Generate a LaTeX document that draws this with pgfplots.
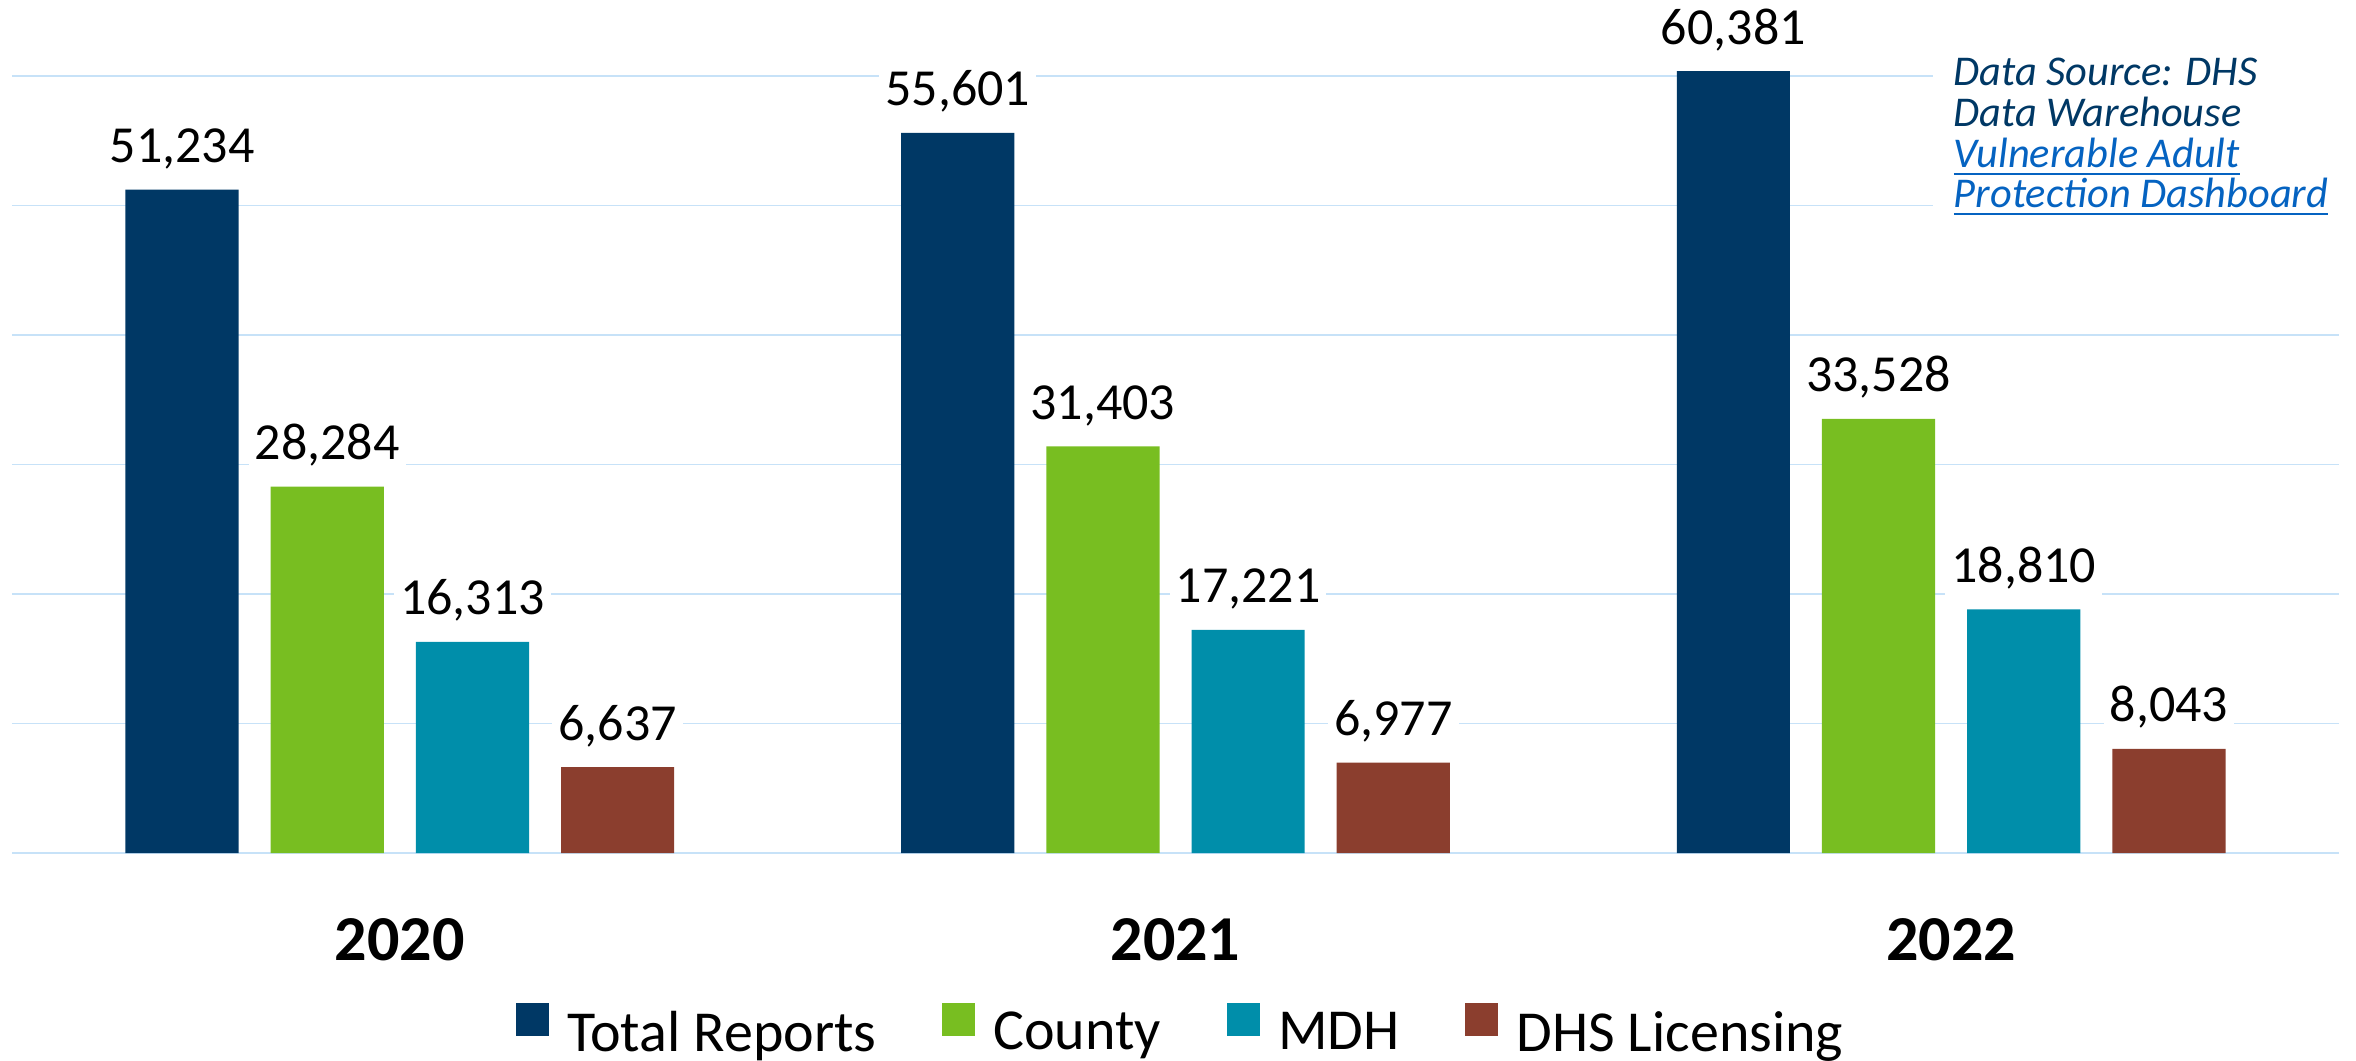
\documentclass[border=0pt]{standalone}
\usepackage{pgfplots}
\pgfplotsset{compat=1.18}
\usepackage{fontspec}
\setmainfont{Carlito}
\definecolor{cnavy}{HTML}{003865}
\definecolor{cgreen}{HTML}{78BE21}
\definecolor{cteal}{HTML}{008EAA}
\definecolor{crust}{HTML}{8B3E2E}
\definecolor{cgrid}{HTML}{C7E2F8}
\definecolor{clink}{HTML}{0563C1}
\begin{document}
\begin{tikzpicture}
\path[use as bounding box] (-3bp,-52bp) rectangle (586bp,213.25bp);
\begin{axis}[
  at={(0,0)}, anchor=south west,
  scale only axis, width=581.75bp, height=194.25bp,
  xmin=-0.5, xmax=2.5, ymin=0, ymax=60000,
  axis line style={draw=none},
  tick style={draw=none},
  major tick length=0pt,
  scaled y ticks=false,
  xtick={0,1,2}, xticklabels={2020,2021,2022},
  xticklabel style={font=\fontsize{16bp}{16bp}\selectfont\bfseries, anchor=base, yshift=-26.75bp},
  ytick={0,10000,...,60000}, yticklabels={},
  ymajorgrids, major grid style={draw=cgrid, line width=0.45bp},
  ybar=8bp, bar width=28.3bp,
  clip=false,
  nodes near coords, point meta=explicit symbolic,
  nodes near coords style={font=\fontsize{13bp}{13bp}\selectfont, anchor=base, yshift=6.75bp, fill=white, inner sep=1.5bp, text=black},
  legend columns=4,
  legend style={at={(axis description cs:0.5037,-0.233)}, anchor=center, draw=none, fill=none,
    font=\fontsize{14.5bp}{14.5bp}\selectfont, inner sep=0pt,
    nodes={inner sep=2.25bp},
    /tikz/every even column/.append style={column sep=14.2bp}},
  legend image code/.code={\fill[#1] (0bp,-0.5bp) rectangle (8.25bp,7.75bp);},
]
\addplot[fill=cnavy, draw=none] coordinates {(0,51234) [51,234] (1,55601) [55,601] (2,60381) [60,381]};
\addplot[fill=cgreen, draw=none] coordinates {(0,28284) [28,284] (1,31403) [31,403] (2,33528) [33,528]};
\addplot[fill=cteal, draw=none] coordinates {(0,16313) [16,313] (1,17221) [17,221] (2,18810) [18,810]};
\addplot[fill=crust, draw=none] coordinates {(0,6637) [6,637] (1,6977) [6,977] (2,8043) [8,043]};
\legend{\hspace{2.3bp}Total Reports, \hspace{2.3bp}County, \hspace{2.3bp}MDH, \hspace{2.3bp}DHS Licensing}
\end{axis}
\fill[white] (480.25bp,140bp) rectangle (590bp,205bp);
\begin{scope}[every node/.style={anchor=base west, inner sep=0pt, font=\fontsize{10.6bp}{10.25bp}\selectfont\itshape}]
\node[text=cnavy] at (485.25bp,191.75bp) {Data Source: DHS};
\node[text=cnavy] at (485.25bp,181.5bp) {Data Warehouse};
\node[text=clink] at (485.25bp,171.25bp) {\underline{Vulnerable Adult}};
\node[text=clink] at (485.25bp,161.25bp) {\underline{Protection Dashboard}};
\end{scope}
\end{tikzpicture}
\end{document}
